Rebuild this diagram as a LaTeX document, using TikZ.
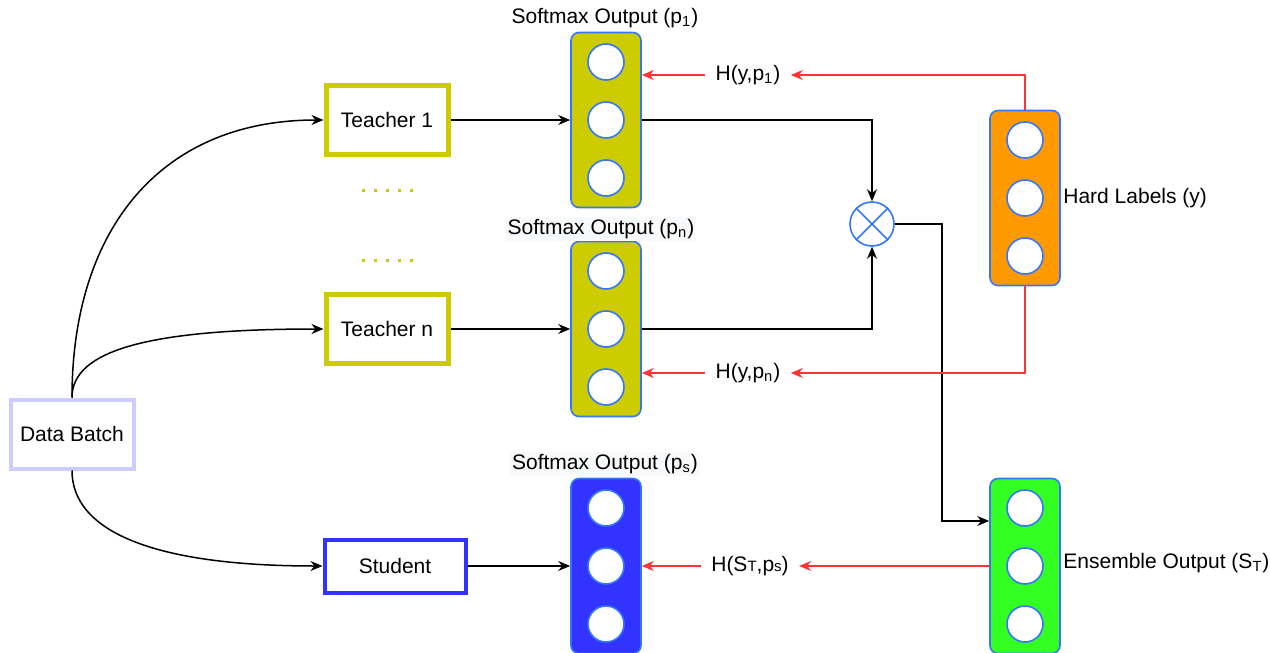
\documentclass[tikz,border=0pt]{standalone}
\usepackage{fontspec}
\setmainfont{Liberation Sans}
\usetikzlibrary{arrows.meta}
\definecolor{tcolive}{HTML}{CCCC00}
\definecolor{nodeblue}{HTML}{3377FF}
\definecolor{studblue}{HTML}{3333FF}
\definecolor{hardorange}{HTML}{FF9900}
\definecolor{ensgreen}{HTML}{33FF22}
\definecolor{lossred}{HTML}{FF3333}
\definecolor{batchlav}{HTML}{CCCCFF}
\definecolor{labelgray}{HTML}{F8F9FA}
\begin{document}
\begin{tikzpicture}[x=0.5pt,y=-0.5pt, font=\fontsize{10.5}{12.5}\selectfont,
  model/.style={draw, line width=2.5pt, fill=white, minimum width=61pt, minimum height=34.5pt},
  layer/.style={draw=nodeblue, line width=0.8pt, rounded corners=4pt, minimum width=35pt, minimum height=87.5pt},
  unit/.style={circle, draw=nodeblue, line width=0.8pt, fill=white, minimum size=18pt, inner sep=0pt},
  flow/.style={-{Stealth[length=6pt,width=5pt]}, line width=0.75pt},
  loss/.style={flow, draw=lossred, color=lossred},
  losslabel/.style={inner sep=5pt}]
\useasboundingbox (0,0) rectangle (1270,653);
% models:
\node[model, draw=batchlav, line width=2pt, minimum width=61.5pt] (db) at (72,434) {Data Batch};
\node[model, draw=tcolive] (t1) at (387,120) {Teacher 1};
\node[model, draw=tcolive] (tn) at (387,329) {Teacher n};
\node[model, draw=studblue, line width=2pt, minimum width=70.5pt, minimum height=26.5pt] (st) at (395,566) {Student};
\foreach \row in {190,260}
  \foreach \x in {363,375,387,399,411}
    \fill[tcolive] (\x-1.5,\row-1.5) rectangle (\x+1.5,\row+1.5);
% output layers:
\node[layer, fill=tcolive] (c1) at (606,120) {};
\node[layer, fill=tcolive] (cn) at (606,329) {};
\node[layer, fill=studblue] (cs) at (606,566) {};
\node[layer, fill=hardorange] (hl) at (1025,198) {};
\node[layer, fill=ensgreen] (ens) at (1025,566) {};
\foreach \col in {c1,cn,cs,hl,ens}
  \foreach \i/\d in {1/29,2/0,3/-29}
    \node[unit] (\col-\i) at ([yshift=\d pt]\col.center) {};
\node[inner sep=1pt] (sl1) at (605,18) {Softmax Output (p\textsubscript{1})};
\node[inner sep=1pt, fill=labelgray] (sln) at (601,229) {Softmax Output (p\textsubscript{n})};
\node[inner sep=1pt, fill=labelgray] (sls) at (605,464) {Softmax Output (p\textsubscript{s})};
\node[anchor=west, inner sep=0pt] (hlt) at (1063,198) {Hard Labels (y)};
\node[anchor=west, inner sep=0pt] (enst) at (1063,563) {Ensemble Output (S\textsubscript{T})};
% product:
\node[circle, draw=nodeblue, line width=0.8pt, fill=white, minimum size=22pt, inner sep=0pt] (ox) at (872,224) {};
\draw[nodeblue, line width=0.8pt] (ox.north east) -- (ox.south west) (ox.north west) -- (ox.south east);
% black arrows:
\draw[flow] (db.north) .. controls (72,230) and (160,120) .. (t1.west);
\draw[flow] (db.north) .. controls (72,350) and (150,329) .. (tn.west);
\draw[flow] (db.south) .. controls (72,530) and (150,566) .. (st.west);
\draw[flow] (t1.east) -- (c1.west);
\draw[flow] (tn.east) -- (cn.west);
\draw[flow] (st.east) -- (cs.west);
\draw[flow] (c1.east) -| (ox.north);
\draw[flow] (cn.east) -| (ox.south);
\coordinate (bend) at (942,521);
\draw[flow] (ox.east) -| (bend) -- (bend -| ens.west);
% losses:
\node[losslabel] (h1) at (748,75) {H(y,p\textsubscript{1})};
\node[losslabel] (hn) at (748,373) {H(y,p\textsubscript{n})};
\node[losslabel] (hs) at (750,566) {H(S{\fontsize{7.5}{8}\selectfont T},p{\fontsize{7.5}{8}\selectfont s})};
\draw[loss] (hl.north) |- (h1.east);
\draw[loss] (h1.west) -- (h1.west -| c1.east);
\draw[loss] (hl.south) |- (hn.east);
\draw[loss] (hn.west) -- (hn.west -| cn.east);
\draw[loss] (ens.west) -- (hs.east);
\draw[loss] (hs.west) -- (hs.west -| cs.east);
\end{tikzpicture}
\end{document}
